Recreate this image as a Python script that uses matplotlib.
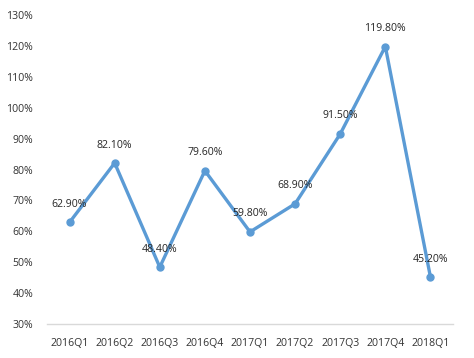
import matplotlib
matplotlib.use("Agg")
import matplotlib.pyplot as plt
from matplotlib.ticker import FuncFormatter

quarters = ["2016Q1", "2016Q2", "2016Q3", "2016Q4", "2017Q1", "2017Q2", "2017Q3", "2017Q4", "2018Q1"]
values = [62.9, 82.1, 48.4, 79.6, 59.8, 68.9, 91.5, 119.8, 45.2]
yticks = [30, 40, 50, 60, 70, 80, 90, 100, 110, 120, 130]

plt.rcParams['font.family'] = ['Open Sans', 'DejaVu Sans']

fig = plt.figure(figsize=(4.74, 3.58), dpi=100)
ax = fig.add_axes([47/474, 34/358, 406/474, 309/358])

x = list(range(len(quarters)))
color = "#5B9BD5"
ax.plot(x, values, color=color, linewidth=2.4, marker='o', markersize=5, zorder=3)

for xi, v in zip(x, values):
    ax.annotate(f"{v:.2f}%", (xi, v), xytext=(0, 9), textcoords='offset points',
                ha='center', va='bottom', fontsize=7.6, color='#262626')

ax.set_xlim(-0.5, len(quarters) - 0.5)
ax.set_ylim(30, 130)
ax.set_yticks(yticks)
ax.yaxis.set_major_formatter(FuncFormatter(lambda v, p: f"{v:.0f}%"))
ax.set_xticks(x)
ax.set_xticklabels(quarters)
ax.tick_params(axis='both', length=0, labelsize=7.6, labelcolor='#333333')
ax.tick_params(axis='x', pad=10)
ax.tick_params(axis='y', pad=10)

for s in ['top', 'right', 'left']:
    ax.spines[s].set_visible(False)
ax.spines['bottom'].set_color('#D9D9D9')
ax.spines['bottom'].set_linewidth(1)

fig.savefig("out.png", dpi=100)
